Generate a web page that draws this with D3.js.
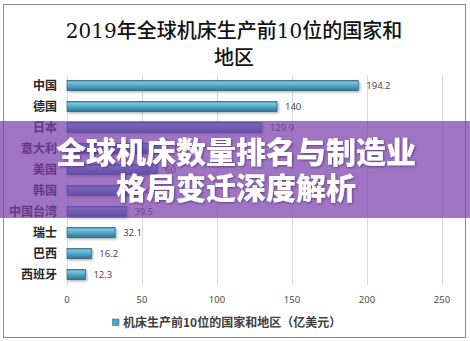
<!DOCTYPE html>
<html>
<head>
<meta charset="utf-8">
<script src="https://cdn.jsdelivr.net/npm/d3@7"></script>
<style>
  html, body { margin: 0; padding: 0; background: #fff; }
  svg { display: block; }
</style>
</head>
<body>
<svg id="chart" width="470" height="341"></svg>
<script>
// 2019 machine-tool production, top 10 countries/regions (100M USD)
const categories = ["中国", "德国", "日本", "意大利", "美国", "韩国", "中国台湾", "瑞士", "巴西", "西班牙"];
const values = [194.2, 140, 129.9, 66.3, 60, 47, 39.5, 32.1, 16.2, 12.3];
const xTicks = [0, 50, 100, 150, 200, 250];
const titleLines = ["2019年全球机床生产前10位的国家和", "地区"];
const legendLabel = "机床生产前10位的国家和地区（亿美元）";
const bannerLines = ["全球机床数量排名与制造业", "格局变迁深度解析"];

const svg = d3.select("#chart");
const W = 470, H = 341;

const defs = svg.append("defs");
const grad = defs.append("linearGradient")
  .attr("id", "barGrad").attr("x1", 0).attr("y1", 0).attr("x2", 0).attr("y2", 1);
grad.append("stop").attr("offset", "0%").attr("stop-color", "#3f8aa6");
grad.append("stop").attr("offset", "18%").attr("stop-color", "#7cc4dc");
grad.append("stop").attr("offset", "55%").attr("stop-color", "#4fa6c6");
grad.append("stop").attr("offset", "100%").attr("stop-color", "#2e7590");

const shadow = defs.append("filter").attr("id", "barShadow")
  .attr("x", "-5%").attr("y", "-50%").attr("width", "115%").attr("height", "250%");
shadow.append("feDropShadow").attr("dx", 1.5).attr("dy", 1.5)
  .attr("stdDeviation", 1).attr("flood-color", "#000").attr("flood-opacity", 0.3);

const textShadow = defs.append("filter").attr("id", "textShadow")
  .attr("x", "-10%").attr("y", "-30%").attr("width", "120%").attr("height", "160%");
textShadow.append("feDropShadow").attr("dx", 1).attr("dy", 1)
  .attr("stdDeviation", 0.8).attr("flood-color", "#3a1f5c").attr("flood-opacity", 0.6);

// outer frame
svg.append("rect")
  .attr("x", 3.5).attr("y", 4.5).attr("width", 462).attr("height", 333)
  .attr("fill", "#fff").attr("stroke", "#8c8c8c").attr("stroke-width", 1);

// title
svg.append("g").selectAll("text").data(titleLines).join("text")
  .attr("x", 234).attr("y", (d, i) => 38 + i * 27)
  .attr("text-anchor", "middle")
  .attr("font-family", "'DejaVu Serif', 'Liberation Serif', 'Noto Sans CJK SC', serif")
  .attr("font-size", 20).attr("font-weight", 500).attr("fill", "#111")
  .text(d => d);

const x = d3.scaleLinear().domain([0, 250]).range([67, 442]);
const y = d3.scaleBand().domain(categories).range([75, 285])
  .paddingInner(0.52).paddingOuter(0.26);

// vertical gridlines
svg.append("g").selectAll("line").data(xTicks).join("line")
  .attr("x1", d => x(d) + 0.5).attr("x2", d => x(d) + 0.5)
  .attr("y1", 75).attr("y2", 285)
  .attr("stroke", "#d9d9d9").attr("stroke-width", 1);

// x tick labels
svg.append("g").selectAll("text").data(xTicks).join("text")
  .attr("x", d => x(d)).attr("y", 303)
  .attr("text-anchor", "middle")
  .attr("font-family", "'Open Sans', 'Liberation Sans', sans-serif")
  .attr("font-size", 9.5).attr("fill", "#404040")
  .text(d => d);

// bars
svg.append("g").selectAll("rect").data(values).join("rect")
  .attr("x", x(0)).attr("y", (d, i) => y(categories[i]))
  .attr("width", d => x(d) - x(0)).attr("height", y.bandwidth())
  .attr("fill", "url(#barGrad)")
  .attr("stroke", "#2b6277").attr("stroke-width", 0.7)
  .attr("filter", "url(#barShadow)");

// value labels
svg.append("g").selectAll("text").data(values).join("text")
  .attr("x", d => x(d) + 8).attr("y", (d, i) => y(categories[i]) + y.bandwidth() / 2)
  .attr("dy", "0.35em")
  .attr("font-family", "'Open Sans', 'Liberation Sans', sans-serif")
  .attr("font-size", 9.5).attr("fill", "#404040")
  .text(d => d);

// category labels
svg.append("g").selectAll("text").data(categories).join("text")
  .attr("x", 57).attr("y", d => y(d) + y.bandwidth() / 2)
  .attr("dy", "0.36em").attr("text-anchor", "end")
  .attr("font-family", "'Noto Sans CJK SC', sans-serif")
  .attr("font-size", 12).attr("font-weight", "bold").attr("fill", "#262626")
  .text(d => d);

// legend
svg.append("rect").attr("x", 112.5).attr("y", 319).attr("width", 6.5).attr("height", 6.5)
  .attr("fill", "#4fa6c6").attr("stroke", "#2b6277").attr("stroke-width", 0.5);
svg.append("text").attr("x", 123).attr("y", 323).attr("dy", "0.36em")
  .attr("font-family", "'Noto Sans CJK SC', sans-serif")
  .attr("font-size", 12).attr("font-weight", "bold").attr("fill", "#404040")
  .text(legendLabel);

// translucent banner across the middle
svg.append("rect").attr("x", 0).attr("y", 121).attr("width", W).attr("height", 97)
  .attr("fill", "rgb(122, 62, 172)").attr("fill-opacity", 0.72);

svg.append("g").attr("filter", "url(#textShadow)")
  .selectAll("text").data(bannerLines).join("text")
  .attr("x", 236).attr("y", (d, i) => 152 + i * 36).attr("dy", "0.36em")
  .attr("text-anchor", "middle")
  .attr("font-family", "'Noto Sans CJK SC', sans-serif")
  .attr("font-size", 30).attr("font-weight", 900).attr("fill", "#fff")
  .text(d => d);
</script>
</body>
</html>
